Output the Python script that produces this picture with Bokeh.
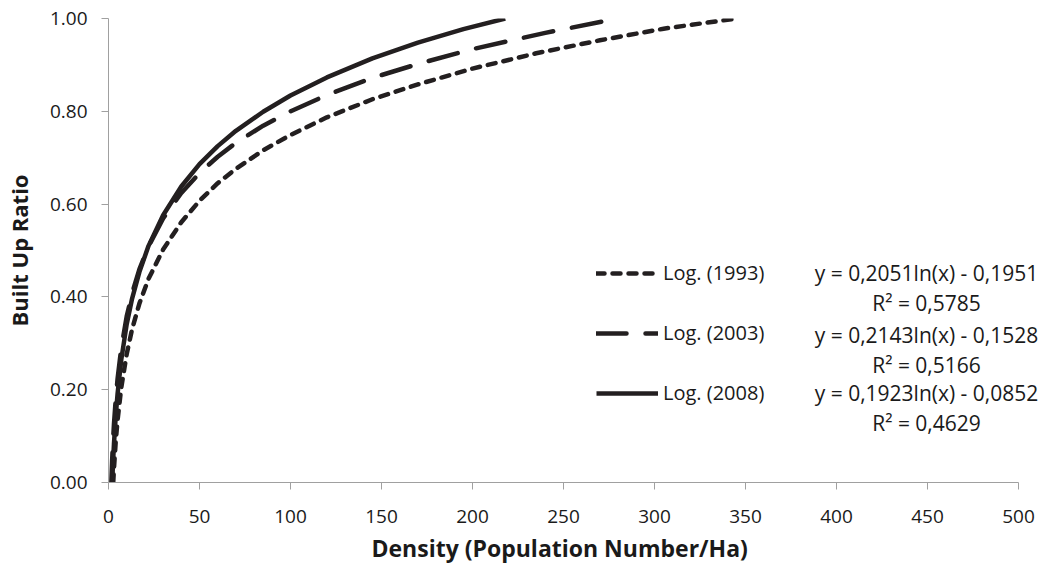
from bokeh.plotting import figure
from bokeh.models import Legend, LegendItem, Label, FixedTicker, NumeralTickFormatter, Range1d, Title
from bokeh.embed import file_html
from bokeh.resources import INLINE

# ---- data ----
x_1993 = [2.6, 3, 4, 5, 7, 10, 13, 17, 22, 30, 40, 50, 60, 70, 85, 100, 120, 145, 170, 200, 235, 270, 305, 345]
y_1993 = [0.00, 0.03, 0.09, 0.135, 0.204, 0.277, 0.331, 0.386, 0.439, 0.502, 0.561, 0.607, 0.645, 0.676,
          0.716, 0.749, 0.787, 0.826, 0.858, 0.892, 0.925, 0.953, 0.978, 1.00]

x_2003 = [1.56, 2, 2.5, 3, 4, 5, 7, 10, 13, 17, 22, 30, 40, 50, 60, 70, 85, 100, 120, 145, 170, 200, 240, 280]
y_2003 = [0.00, 0.048, 0.091, 0.126, 0.181, 0.224, 0.289, 0.358, 0.408, 0.460, 0.509, 0.569, 0.624, 0.667,
          0.702, 0.732, 0.769, 0.800, 0.835, 0.872, 0.902, 0.934, 0.969, 1.00]

x_2008 = [2.04, 2.5, 3, 4, 5, 7, 10, 13, 17, 22, 30, 40, 50, 60, 70, 85, 100, 120, 145, 170, 195, 218]
y_2008 = [0.00, 0.044, 0.083, 0.144, 0.192, 0.264, 0.341, 0.397, 0.454, 0.510, 0.576, 0.638, 0.686, 0.725,
          0.758, 0.799, 0.834, 0.873, 0.914, 0.948, 0.977, 1.00]

series_names = ["Log. (1993)", "Log. (2003)", "Log. (2008)"]
equations = ["y = 0,2051ln(x) - 0,1951", "y = 0,2143ln(x) - 0,1528", "y = 0,1923ln(x) - 0,0852"]
r_squared = ["R² = 0,5785", "R² = 0,5166", "R² = 0,4629"]

x_ticks = [0, 50, 100, 150, 200, 250, 300, 350, 400, 450, 500]
y_ticks = [0.0, 0.2, 0.4, 0.6, 0.8, 1.0]

x_title = "Density (Population Number/Ha)"
y_title = "Built Up Ratio"

FONT = "Open Sans"
TXT = "#1a1a1a"
LINE = "#231f20"

# the frame extends past x=500 so the trendline equations are not clipped;
# the axis line itself stops at 500 (bounds)
AXIS_W = 910            # pixels for 0..500
FRAME_W = 932
X_END = 500 * FRAME_W / AXIS_W

p = figure(width=1039, height=562, output_backend="svg", toolbar_location=None,
           x_range=Range1d(0, X_END), y_range=Range1d(0, 1),
           min_border_left=105, min_border_right=2, min_border_top=18, min_border_bottom=80)
p.frame_width = FRAME_W
p.frame_height = 464
p.outline_line_color = None
p.xgrid.visible = False
p.ygrid.visible = False
p.background_fill_color = "white"

for ax in (p.xaxis[0], p.yaxis[0]):
    ax.axis_line_color = "#a0a0a0"
    ax.major_tick_line_color = "#a0a0a0"
    ax.major_tick_out = 7
    ax.major_tick_in = 0
    ax.minor_tick_line_color = None
    ax.major_label_text_font = FONT
    ax.major_label_text_font_size = "19px"
    ax.major_label_text_color = TXT
    ax.axis_label_text_font = FONT
    ax.axis_label_text_font_style = "bold"
    ax.axis_label_text_color = TXT

p.xaxis.bounds = (0, 500)
p.yaxis.axis_label_text_font_size = "22px"
p.xaxis.ticker = FixedTicker(ticks=x_ticks)
p.yaxis.ticker = FixedTicker(ticks=y_ticks)
p.yaxis.formatter = NumeralTickFormatter(format="0.00")
p.yaxis.axis_label = y_title
p.xaxis.major_label_standoff = 20
p.yaxis.major_label_standoff = 14
p.yaxis.axis_label_standoff = 13

# x-axis title centred under the 0..500 axis (not the wider frame)
p.add_layout(Title(text=x_title, align="left", offset=263, standoff=8,
                   vertical_align="bottom", text_line_height=1.45,
                   text_font=FONT, text_font_size="23px", text_font_style="bold",
                   text_color=TXT), "below")

r1 = p.line(x_1993, y_1993, line_color=LINE, line_width=4.5, line_dash="8 8", line_cap="round")
r2 = p.line(x_2003, y_2003, line_color=LINE, line_width=4.5, line_dash="30 19", line_cap="round")
r3 = p.line(x_2008, y_2008, line_color=LINE, line_width=4.5)

legend = Legend(items=[LegendItem(label=series_names[0], renderers=[r1]),
                       LegendItem(label=series_names[1], renderers=[r2]),
                       LegendItem(label=series_names[2], renderers=[r3])],
                location=(488, 76), glyph_width=62, glyph_height=20, label_height=20,
                spacing=33, padding=0, margin=0, label_standoff=5,
                label_text_font=FONT, label_text_font_size="20px", label_text_color=TXT,
                border_line_color=None, background_fill_alpha=0)
p.add_layout(legend)

# trendline equations (screen-positioned annotations)
eq_x = 818
rows_y = [210, 148, 90]
for eq, r2t, yy in zip(equations, r_squared, rows_y):
    p.add_layout(Label(x=eq_x, y=yy, x_units="screen", y_units="screen", text=eq,
                       text_align="center", text_baseline="middle", text_font=FONT,
                       text_font_size="21px", text_color=TXT))
    p.add_layout(Label(x=eq_x, y=yy - 30, x_units="screen", y_units="screen", text=r2t,
                       text_align="center", text_baseline="middle", text_font=FONT,
                       text_font_size="21px", text_color=TXT))

open("out.html", "w").write(file_html(p, INLINE))
